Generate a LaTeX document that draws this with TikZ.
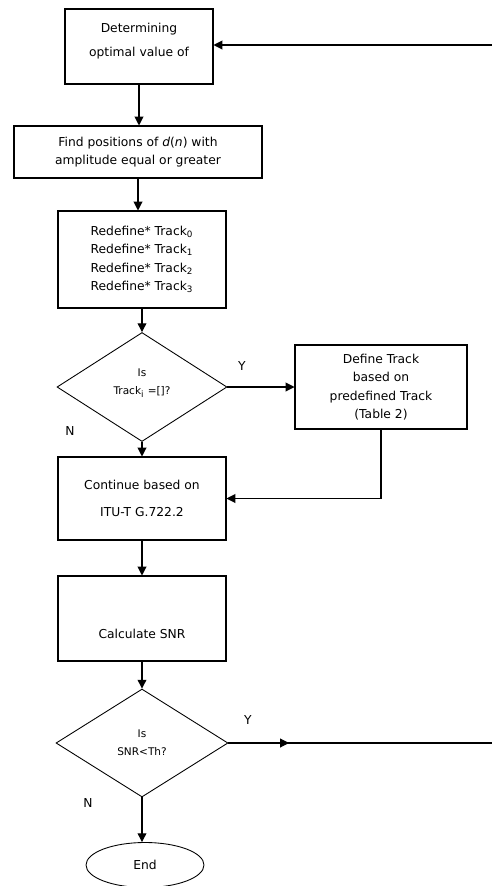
\documentclass[tikz,border=0pt]{standalone}
\usepackage{amsmath}
\usepackage{fontspec}
\setmainfont{DejaVu Sans}
\usetikzlibrary{shapes.geometric,arrows.meta}

\begin{document}
\begin{tikzpicture}[x=0.02cm, y=-0.02cm,
    every node/.style={font=\fontsize{7}{10.5}\selectfont, align=center},
    box/.style={draw, rectangle, inner sep=0pt, line width=0.6pt},
    decision/.style={draw, diamond, inner sep=0pt, line width=0.5pt, font=\fontsize{6}{10}\selectfont},
    arr/.style={-{Triangle[length=5pt,width=5pt]}, line width=0.6pt}]
            \useasboundingbox (0,0) rectangle (492,886);

            \node[box, minimum width=2.96cm, minimum height=1.5cm] (det) at (139,46.5) {Determining\\[3.5pt]optimal value of\\[-3pt]\mbox{}};
            \node[box, minimum width=4.96cm, minimum height=1.04cm] (find) at (138,152) {Find positions of \textit{d}(\textit{n}) with\\amplitude equal or greater};
            \node[box, minimum width=3.36cm, minimum height=1.94cm] (redef) at (142,259.5) {Redefine* Track\textsubscript{0}\\Redefine* Track\textsubscript{1}\\Redefine* Track\textsubscript{2}\\Redefine* Track\textsubscript{3}};
            \node[decision, minimum width=3.4cm, minimum height=2.18cm] (empty) at (142,387) {Is\\Track\textsubscript{i} =[]?\\[-4pt]\mbox{}};
            \node[box, minimum width=3.44cm, minimum height=1.68cm] (define) at (381,387) {Define Track\\based on\\predefined Track\\(Table 2)};
            \node[box, minimum width=3.36cm, minimum height=1.66cm] (cont) at (142,498.5) {Continue based on\\[5pt]ITU-T G.722.2};
            \node[box, minimum width=3.36cm, minimum height=1.7cm] (snr) at (142,618.5) {\mbox{}\\[12pt]Calculate SNR};
            \node[decision, minimum width=3.44cm, minimum height=2.16cm] (check) at (142,743) {Is\\SNR<Th?};
            \node[draw, ellipse, line width=0.5pt, minimum width=2.36cm, minimum height=0.9cm] (end) at (145,865) {End};

            % Y / N branch labels
            \node (y1) at (242,366) {Y};
            \node (n1) at (70,431) {N};
            \node (y2) at (248,720) {Y};
            \node (n2) at (88,803) {N};

            % loop ends leaving the page
            \coordinate (loopin) at (492,45);
            \coordinate (ytip) at (289,743);
            \coordinate (loopout) at (492,743);

            \draw[arr] (loopin) -- (loopin -| det.east);
            \draw[arr] (det.south) -- (det.south |- find.north);
            \draw[arr] (find.south) -- (find.south |- redef.north);
            \draw[arr] (redef.south) -- (empty.north);
            \draw[arr] (empty.east) -- (define.west);
            \draw[arr] (empty.south) -- (cont.north);
            \draw[arr] (define.south) |- (cont.east);
            \draw[arr] (cont.south) -- (snr.north);
            \draw[arr] (snr.south) -- (check.north);
            \draw[line width=0.6pt] (check.east) -- (loopout);
            \draw[arr] (check.east) -- (ytip);
            \draw[arr] (check.south) -- (check.south |- end.north);
        \end{tikzpicture}
\end{document}
